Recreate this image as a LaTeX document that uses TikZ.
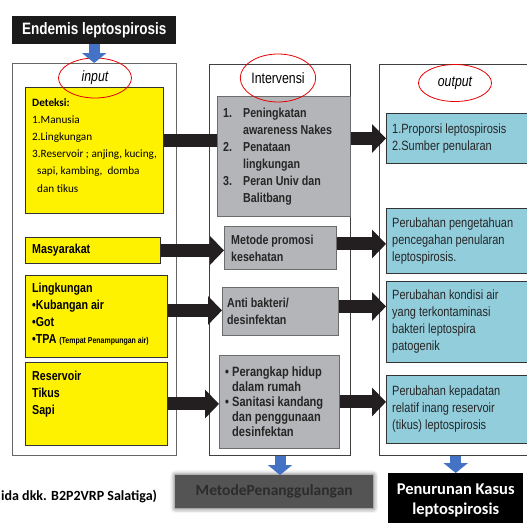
\documentclass[tikz,border=0pt]{standalone}
\usepackage{fontspec}
\setmainfont{Liberation Sans}
\newfontfamily\narrowsf[FakeStretch=0.82]{Liberation Sans}
\newfontfamily\calibsf{Carlito}
\usetikzlibrary{arrows.meta,positioning,shapes.geometric,shadows.blur}

\definecolor{boxgray}{RGB}{180,181,184}
\definecolor{boxblue}{RGB}{146,205,220}
\definecolor{arrowblue}{RGB}{68,114,196}
\definecolor{arrowblack}{RGB}{35,31,32}
\definecolor{titleblack}{RGB}{26,26,26}
\definecolor{metodegray}{RGB}{84,84,84}
\definecolor{metodetext}{RGB}{44,44,44}

\begin{document}
\begin{tikzpicture}[x=1pt, y=-1pt,
    panel/.style={rectangle, draw=#1, line width=1pt, anchor=north west, inner sep=0pt},
    panel/.default=black!75,
    ybox/.style={rectangle, draw=black!80, fill=yellow, line width=0.9pt, anchor=north west, inner sep=0pt},
    gbox/.style={rectangle, draw=gray!85!black, fill=boxgray, line width=0.9pt, anchor=north west, inner sep=0pt},
    bbox/.style={rectangle, draw=black!80, fill=boxblue, line width=0.9pt, anchor=north west, inner sep=0pt},
    oval/.style={ellipse, draw=red!90!black, line width=0.8pt, inner sep=0pt,
      font=\narrowsf\fontsize{15}{18}\selectfont},
    boxtxt/.style={align=left, inner sep=0pt},
    ytxt/.style={boxtxt, font=\narrowsf\bfseries\fontsize{13}{17}\selectfont},
    dtxt/.style={boxtxt, font=\calibsf\fontsize{11.2}{17.2}\selectfont},
    gtxt/.style={boxtxt, text=black!85, font=\narrowsf\bfseries\fontsize{13}{17}\selectfont},
    btxt/.style={boxtxt, text=black!85, font=\narrowsf\fontsize{13.4}{17}\selectfont},
    blkarrow/.style={draw=arrowblack, line width=13pt, -{Triangle[length=14pt,width=28pt]}},
    blkbar/.style={draw=arrowblack, line width=13pt},
    bluearrow/.style={draw=arrowblue, line width=11pt, -{Triangle[length=10pt,width=24pt]}}
  ]
  \clip (0,0) rectangle (527,522);

  %% three columns
  \node[panel=gray!80!black, minimum width=164pt, minimum height=392pt] (inpanel) at (12,63) {};
  \node[panel, minimum width=141pt, minimum height=391pt] (midpanel) at (209,64) {};
  \node[panel, minimum width=180pt, minimum height=391pt] (outpanel) at (379,64) {};

  %% title
  \node[fill=titleblack, text=white, anchor=north west, minimum width=164pt, minimum height=28pt,
        inner sep=0pt, font=\narrowsf\bfseries\fontsize{16.5}{20}\selectfont] (title) at (12,16)
    {Endemis leptospirosis};

  %% input
  \node[ybox, minimum width=138pt, minimum height=126pt] (det) at (25,87) {};
  \node[ybox, minimum width=135pt, minimum height=26pt] (mas) at (25,237) {};
  \node[ybox, minimum width=142pt, minimum height=82pt] (ling) at (25,275) {};
  \node[ybox, minimum width=142pt, minimum height=83pt] (res) at (25,362) {};

  \node[dtxt, below right=11pt and 7pt of det.north west] (dettxt)
    {\bfseries Deteksi:\\1.Manusia\\2.Lingkungan\\3.Reservoir ; anjing, kucing,\\
     \hspace*{5pt}sapi, kambing,\ \ domba\\\hspace*{5pt}dan tikus};
  \node[ytxt, right=7pt of mas.west] (mastxt) {Masyarakat};
  \node[ytxt, below right=8pt and 7pt of ling.north west] (lingtxt)
    {Lingkungan\\\textbullet Kubangan air\\\textbullet Got\\
     \textbullet TPA {\fontsize{8.5}{10}\selectfont (Tempat Penampungan air)}};
  \node[ytxt, below right=9pt and 7pt of res.north west] (restxt) {Reservoir\\Tikus\\Sapi};

  %% intervensi
  \node[gbox, minimum width=133pt, minimum height=120pt] (g1) at (217,96) {};
  \node[gbox, minimum width=112pt, minimum height=43pt] (g2) at (224,226) {};
  \node[gbox, minimum width=116pt, minimum height=48pt] (g3) at (222,287) {};
  \node[gbox, minimum width=120pt, minimum height=93pt] (g4) at (219,355) {};

  \node[gtxt, right=6pt of g1.west] (g1txt)
    {\makebox[20pt][l]{1.}Peningkatan\\\hspace*{20pt}awareness Nakes\\
     \makebox[20pt][l]{2.}Penataan\\\hspace*{20pt}lingkungan\\
     \makebox[20pt][l]{3.}Peran Univ dan\\\hspace*{20pt}Balitbang};
  \node[gtxt, right=7pt of g2.west] (g2txt) {Metode promosi\\kesehatan};
  \node[gtxt, right=5pt of g3.west] (g3txt) {Anti bakteri/\\desinfektan};
  \node[gtxt, font=\narrowsf\bfseries\fontsize{13.5}{15}\selectfont, right=6pt of g4.west] (g4txt)
    {\makebox[7pt][l]{\textbullet}Perangkap hidup\\\hspace*{7pt}dalam rumah\\
     \makebox[7pt][l]{\textbullet}Sanitasi kandang\\\hspace*{7pt}dan penggunaan\\
     \hspace*{7pt}desinfektan};

  %% output
  \node[bbox, minimum width=175pt, minimum height=50pt] (b1) at (386,113) {};
  \node[bbox, minimum width=175pt, minimum height=65pt] (b2) at (386,208) {};
  \node[bbox, minimum width=175pt, minimum height=81pt] (b3) at (386,281) {};
  \node[bbox, minimum width=175pt, minimum height=68pt] (b4) at (386,375) {};

  \node[btxt, right=6pt of b1.west] (b1txt) {1.Proporsi leptospirosis\\2.Sumber penularan};
  \node[btxt, right=6pt of b2.west] (b2txt)
    {Perubahan pengetahuan\\pencegahan penularan\\leptospirosis.};
  \node[btxt, right=6pt of b3.west] (b3txt)
    {Perubahan kondisi air\\yang terkontaminasi\\bakteri leptospira\\patogenik};
  \node[btxt, right=6pt of b4.west] (b4txt)
    {Perubahan kepadatan\\relatif inang reservoir\\(tikus) leptospirosis};

  %% column headings
  \node[oval, minimum width=73pt, minimum height=40pt] (inoval) at (95,78) {\itshape input};
  \node[oval, minimum width=71pt, minimum height=48pt] (midoval) at (278,78) {Intervensi};
  \node[oval, minimum width=73pt, minimum height=37pt] (outoval) at (455,83) {\itshape output};

  %% results at the bottom
  \node[anchor=north west, minimum width=198pt, minimum height=33pt, inner sep=0pt, fill=metodegray,
        blur shadow={shadow xshift=0pt, shadow yshift=0pt, shadow blur radius=5pt, shadow opacity=70},
        text=metodetext, font=\calibsf\bfseries\fontsize{15.5}{18}\selectfont] (metode) at (175,475)
    {MetodePenanggulangan};
  \node[anchor=north west, minimum width=135pt, minimum height=54pt, inner sep=0pt, fill=black,
        text=white, align=center, font=\calibsf\bfseries\fontsize{16.5}{20}\selectfont] (pen) at (388,473)
    {Penurunan Kasus\\leptospirosis};
  \node[anchor=base west, inner sep=0pt, font=\calibsf\bfseries\fontsize{14}{16}\selectfont] (source)
    at (1,500) {ida dkk. B2P2VRP Salatiga)};

  %% arrows
  \draw[bluearrow] (title.south) -- (title.south |- inpanel.north);
  \draw[bluearrow] (midpanel.south) -- (midpanel.south |- metode.north);
  \draw[bluearrow] (pen.north |- outpanel.south) -- (pen.north);

  \draw[blkbar] ([yshift=10pt]det.east) -- ([yshift=10pt]det.east -| g1.west);
  \draw[blkarrow] (mas.east) -- (mas.east -| g2.west);
  \draw[blkarrow] ([yshift=6pt]ling.east) -- ([yshift=6pt]ling.east -| g3.west);
  \draw[blkarrow] (res.east) -- (res.east -| g4.west);
  \draw[blkarrow] (g1.east |- b1.west) -- (b1.west);
  \draw[blkarrow] ([yshift=4pt]g2.east) -- ([yshift=4pt]g2.east -| b2.west);
  \draw[blkarrow] ([yshift=5pt]g3.east) -- ([yshift=5pt]g3.east -| b3.west);
  \draw[blkarrow] (g4.east) -- (g4.east -| b4.west);
\end{tikzpicture}
\end{document}
